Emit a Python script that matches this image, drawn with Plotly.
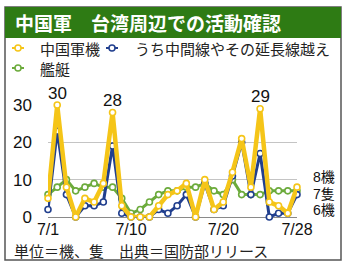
import plotly.graph_objects as go

# ---- data ----
days = [1, 2, 3, 4, 5, 6, 7, 8, 9, 10, 11, 12, 13, 14, 15, 16, 17, 18, 19, 20,
        21, 22, 23, 24, 25, 26, 27, 28]
aircraft = [5, 30, 8, 0, 5, 4, 9, 28, 3, 0, 0, 0, 3, 6, 7, 9, 0, 10, 2, 4,
            12, 21, 8, 29, 4, 3, 1, 8]
median_cross = [2, 23, 6, 0, 3, 3, 4, 19, 1, 0, 0, 0, 2, 1, 3, 6, 0, 9, 2, 3,
                11, 20, 6, 17, 0, 1, 1, 6]
ships = [6, 8, 10, 7, 8, 9, 8, 8, 5, 1, 2, 4, 6, 7, 7, 8, 8, 9, 7, 6,
         10, 6, 6, 6, 7, 7, 7, 7]
tick_days = [1, 10, 20, 28]
tick_labels = ["7/1", "7/10", "7/20", "7/28"]
peak_days = [2, 8, 24]
end_labels = ["8機", "7隻", "6機"]
series_names = ["中国軍機", "うち中間線やその延長線越え", "艦艇"]
title_text = "中国軍　台湾周辺での活動確認"
footer_text = "単位＝機、隻　出典＝国防部リリース"

YELLOW = "#f5c518"
BLUE = "#213f8e"
GREEN = "#6cab3c"
TITLE_GREEN = "#2e7b14"
FONT = "Liberation Sans, Noto Sans CJK JP, sans-serif"
JFONT = "Noto Sans CJK JP, sans-serif"

W, H = 350, 270
ML, MR, MT, MB = 48, 53, 105, 53

fig = go.Figure()

def add_series(y, color, width, name):
    fig.add_trace(go.Scatter(
        x=days, y=y, mode="lines+markers", name=name,
        line=dict(color=color, width=width),
        marker=dict(size=6, color="white", line=dict(color=color, width=1.6)),
        cliponaxis=False, showlegend=False))

add_series(ships, GREEN, 3, series_names[2])
add_series(median_cross, BLUE, 3, series_names[1])
add_series(aircraft, YELLOW, 4.5, series_names[0])

# peak labels
for d in peak_days:
    v = aircraft[days.index(d)]
    fig.add_annotation(x=d, y=v, text=str(v), showarrow=False, yanchor="middle",
                       yshift=12, font=dict(family=FONT, size=17, color="#111"))

def px2paper_x(px):
    return (px - ML) / (W - ML - MR)

def px2paper_y(py):
    return (H - MB - py) / (H - MT - MB)

# end labels (right side)
for i, t in enumerate(end_labels):
    fig.add_annotation(xref="paper", yref="paper", x=px2paper_x(312),
                       y=px2paper_y(177 + 16.5 * i),
                       text=t, showarrow=False, xanchor="left", yanchor="middle",
                       borderpad=0,
                       font=dict(family=FONT, size=14, color="#111"))

# frame and title bar
fig.add_shape(type="rect", xref="paper", yref="paper",
              x0=px2paper_x(5), x1=px2paper_x(341), y0=px2paper_y(260), y1=px2paper_y(7),
              line=dict(color="#555", width=1.5), fillcolor="rgba(0,0,0,0)", layer="below")
fig.add_shape(type="rect", xref="paper", yref="paper",
              x0=px2paper_x(5), x1=px2paper_x(341), y0=px2paper_y(38), y1=px2paper_y(7),
              line=dict(color=TITLE_GREEN, width=0), fillcolor=TITLE_GREEN)
fig.add_annotation(xref="paper", yref="paper", x=px2paper_x(13), y=px2paper_y(22.5),
                   text="<b>" + title_text + "</b>", showarrow=False,
                   xanchor="left", yanchor="middle",
                   font=dict(family=JFONT, size=19, color="white"))

# legend (manual)
legend_items = [(YELLOW, series_names[0], 18, 48, 38),
                (BLUE, series_names[1], 112, 48, 133),
                (GREEN, series_names[2], 18, 68, 38)]
for color, name, cx, cy, tx in legend_items:
    fig.add_shape(type="line", xref="paper", yref="paper",
                  x0=px2paper_x(cx - 6), x1=px2paper_x(cx + 6),
                  y0=px2paper_y(cy), y1=px2paper_y(cy),
                  line=dict(color=color, width=2))
    fig.add_shape(type="circle", xref="paper", yref="paper",
                  x0=px2paper_x(cx - 3), x1=px2paper_x(cx + 3),
                  y0=px2paper_y(cy + 3), y1=px2paper_y(cy - 3),
                  line=dict(color=color, width=1.5), fillcolor="white")
    fig.add_annotation(xref="paper", yref="paper", x=px2paper_x(tx), y=px2paper_y(cy),
                       text=name, showarrow=False, xanchor="left", yanchor="middle",
                       font=dict(family=JFONT, size=15, color="#222"))

# footer
fig.add_annotation(xref="paper", yref="paper", x=px2paper_x(12), y=px2paper_y(250),
                   text=footer_text, showarrow=False, xanchor="left", yanchor="middle",
                   font=dict(family=JFONT, size=15, color="#222"))

fig.update_layout(
    width=W, height=H, margin=dict(l=ML, r=MR, t=MT, b=MB, pad=0),
    paper_bgcolor="white", plot_bgcolor="white",
    xaxis=dict(range=[days[0], days[-1]], tickvals=tick_days, ticktext=tick_labels,
               showgrid=False, zeroline=False, showline=False, ticks="",
               ticklabelstandoff=1,
               tickfont=dict(family=FONT, size=16, color="#111"), fixedrange=True),
    yaxis=dict(range=[0, 30], tickvals=[0, 10, 20, 30], showgrid=True,
               gridcolor="#c4c4c4", gridwidth=1, zeroline=True, zerolinecolor="#8a8a8a",
               zerolinewidth=1.2, ticks="", ticklabelstandoff=15,
               tickfont=dict(family=FONT, size=17, color="#111"), fixedrange=True),
    showlegend=False,
)

fig.write_html("out.html")
